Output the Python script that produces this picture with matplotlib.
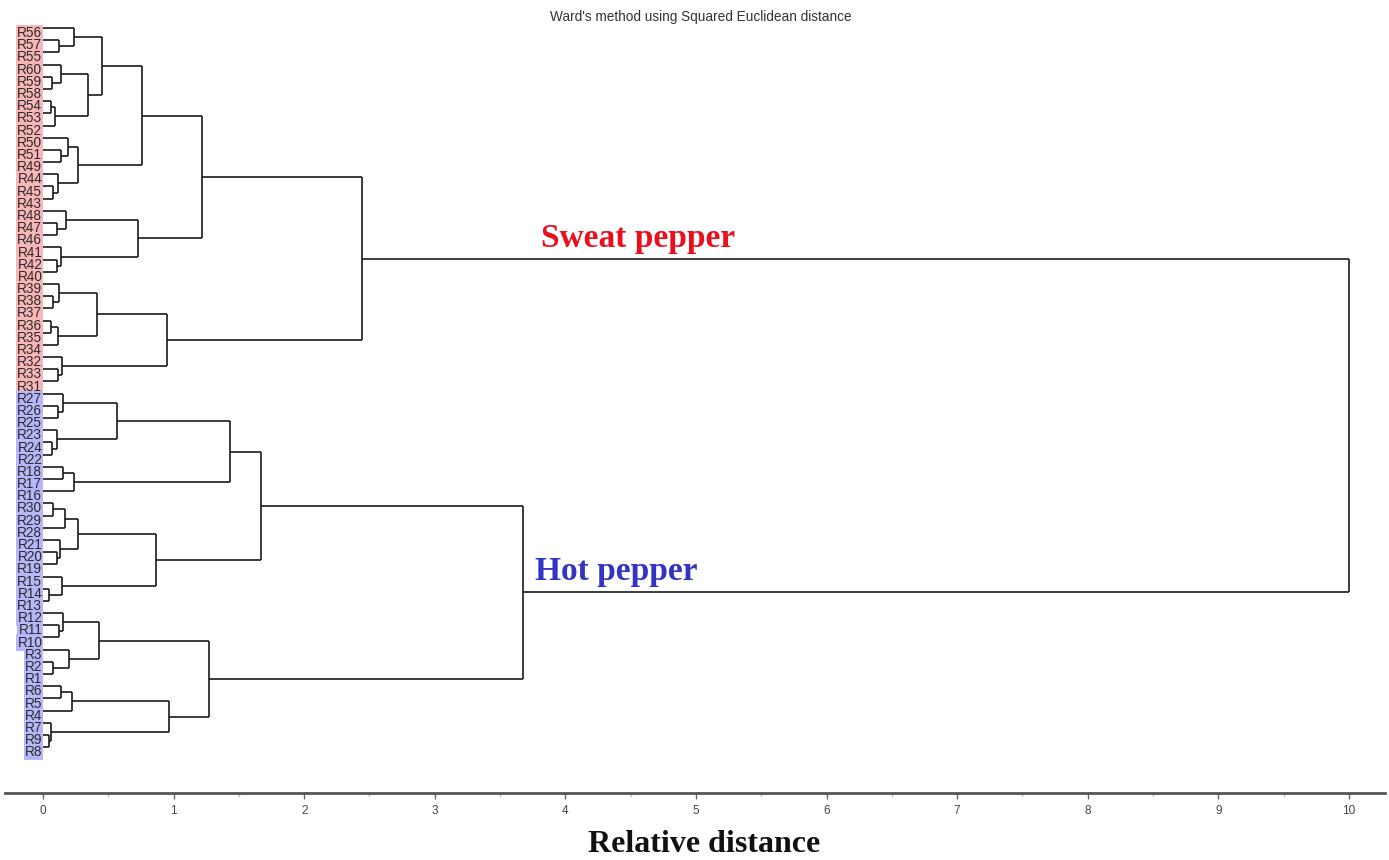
import matplotlib.pyplot as plt

# 클러스터 구조: (왼쪽, 오른쪽, 병합 거리) 형태의 중첩 튜플, 잎은 시료 이름
A1 = ("R56", ("R57", "R55", 0.125), 0.237)
A2 = (("R60", ("R59", "R58", 0.07), 0.138), (("R54", "R53", 0.06), "R52", 0.09), 0.347)
B1 = ("R50", ("R51", "R49", 0.138), 0.189)
B2 = ("R44", ("R45", "R43", 0.074), 0.117)
C1 = ("R48", ("R47", "R46", 0.105), 0.174)
C2 = ("R41", ("R42", "R40", 0.105), 0.135)
D1 = ("R39", ("R38", "R37", 0.079), 0.122)
D2 = (("R36", "R35", 0.061), "R34", 0.117)
D3 = ("R32", ("R33", "R31", 0.117), 0.143)

E1 = ("R27", ("R26", "R25", 0.112), 0.156)
E2 = ("R23", ("R24", "R22", 0.071), 0.105)
F = (("R18", "R17", 0.156), "R16", 0.237)
G1 = (("R30", "R29", 0.079), "R28", 0.168)
G2 = ("R21", ("R20", "R19", 0.11), 0.13)
G3 = ("R15", ("R14", "R13", 0.046), 0.143)
H1 = ("R12", ("R11", "R10", 0.125), 0.156)
H2 = ("R3", ("R2", "R1", 0.074), 0.2)
I1 = (("R6", "R5", 0.135), "R4", 0.224)
I2 = ("R7", ("R9", "R8", 0.045), 0.065)

# 상위 병합
SWEET = ((((A1, A2, 0.449), (B1, B2, 0.27), 0.756), (C1, C2, 0.73), 1.215),
         ((D1, D2, 0.411), D3, 0.947), 2.443)
HOT = (((((E1, E2, 0.569), F, 1.43), ((G1, G2, 0.265), G3, 0.865), 1.67)),
       ((H1, H2, 0.429), (I1, I2, 0.967), 1.27), 3.675)
ROOT = (SWEET, HOT, 10.0)

x_ticks = list(range(0, 11))

LINE = "#1a1a1a"


def leaves(node):
    if isinstance(node, str):
        return [node]
    return leaves(node[0]) + leaves(node[1])


order = leaves(ROOT)
pos = {name: i for i, name in enumerate(order)}


def draw(ax, node):
    # 노드의 (y 위치, 높이) 반환하면서 선을 그림
    if isinstance(node, str):
        return pos[node], 0.0
    y1, h1 = draw(ax, node[0])
    y2, h2 = draw(ax, node[1])
    h = node[2]
    ax.plot([h1, h], [y1, y1], color=LINE, lw=1.2, solid_capstyle="butt")
    ax.plot([h2, h], [y2, y2], color=LINE, lw=1.2, solid_capstyle="butt")
    ax.plot([h, h], [y1, y2], color=LINE, lw=1.2, solid_capstyle="butt")
    return (y1 + y2) / 2, h


fig = plt.figure(figsize=(13.89, 8.6), dpi=100)
ax = fig.add_axes([5 / 1389, 67 / 860, 1380 / 1389, 785 / 860])

draw(ax, ROOT)

sweet_set = set(leaves(SWEET))
for name in order:
    fc = "#f9b6b6" if name in sweet_set else "#b6b6f8"
    ax.text(-0.005, pos[name] + 0.42, name, ha="right", va="center",
            fontsize=9.8, family="Liberation Sans", color="#2a2a2a",
            bbox=dict(boxstyle="square,pad=0.08", fc=fc, ec="none"))

ax.text(3.813, 17.97, "Sweat pepper", ha="left", va="baseline",
        fontsize=24, fontweight="bold", family="Liberation Serif", color="#e8101c")
ax.text(3.767, 45.28, "Hot pepper", ha="left", va="baseline",
        fontsize=24, fontweight="bold", family="Liberation Serif", color="#3333c4")

ax.set_xlim(-0.291, 10.276)
ax.set_ylim(62.76, -1.64)

for side in ["top", "left", "right"]:
    ax.spines[side].set_visible(False)
ax.spines["bottom"].set_linewidth(2)
ax.spines["bottom"].set_color("#555555")
ax.set_yticks([])
ax.set_xticks(x_ticks)
ax.set_xticks([t + 0.5 for t in x_ticks[:-1]], minor=True)
ax.tick_params(axis="x", which="major", direction="out", length=4, width=1,
               color="#666666", labelsize=8.5, labelcolor="#444444", pad=5)
ax.tick_params(axis="x", which="minor", direction="out", length=2, width=1,
               color="#aaaaaa")
for lab in ax.get_xticklabels():
    lab.set_family("Liberation Sans")

fig.text(701 / 1389, 1 - 17 / 860, "Ward's method using Squared Euclidean distance",
         ha="center", va="center", fontsize=9.8, family="Liberation Sans", color="#333333")
fig.text(704 / 1389, 1 - 852 / 860, "Relative distance", ha="center", va="baseline",
         fontsize=23, fontweight="bold", family="Liberation Serif", color="#111111")

fig.savefig("out.png", dpi=100)
